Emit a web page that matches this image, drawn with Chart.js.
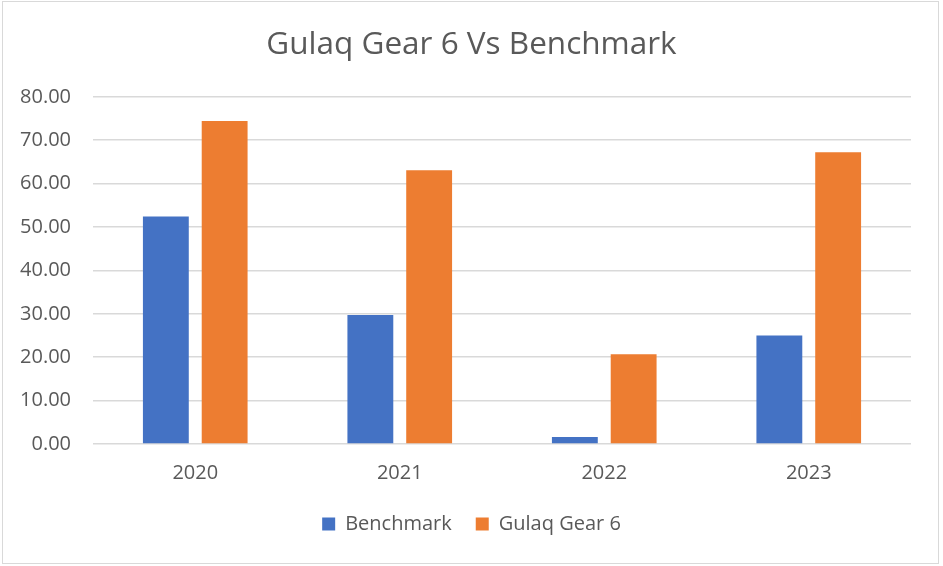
<!DOCTYPE html>
<html>
<head>
<meta charset="utf-8">
<script src="https://cdn.jsdelivr.net/npm/chart.js@4"></script>
<style>
  html, body { margin: 0; padding: 0; background: #fff; }
  #frame { position: absolute; left: 2px; top: 1px; width: 935px; height: 561px; border: 1.5px solid #d9d9d9; }
  #wrap { position: absolute; left: 0; top: 0; width: 943px; height: 566px; }
</style>
</head>
<body>
<div id="frame"></div>
<div id="wrap"><canvas id="GulaqChart"></canvas></div>
<script>
// data
const tahun = ['2020', '2021', '2022', '2023'];
const benchmark = [52.4, 29.7, 1.6, 25.0];
const gulaq_gear6 = [74.4, 63.1, 20.7, 67.2];
const y_ticks = [0, 10, 20, 30, 40, 50, 60, 70, 80];

const abu = '#595959';
Chart.defaults.font.family = '"Open Sans", sans-serif';
Chart.defaults.color = abu;

const ctx = document.getElementById('GulaqChart');
new Chart(ctx, {
    type: 'bar',
    data: {
        labels: tahun,
        datasets: [{
            label: 'Benchmark',
            data: benchmark,
            backgroundColor: '#4472C4',
            borderWidth: 0,
            categoryPercentage: 0.575,
            barPercentage: 0.78
        }, {
            label: 'Gulaq Gear 6',
            data: gulaq_gear6,
            backgroundColor: '#ED7D31',
            borderWidth: 0,
            categoryPercentage: 0.575,
            barPercentage: 0.78
        }]
    },
    options: {
        responsive: true,
        maintainAspectRatio: false,
        animation: false,
        layout: { padding: { left: 0, right: 0, top: 0, bottom: 22 } },
        plugins: {
            title: {
                display: true,
                text: 'Gulaq Gear 6 Vs Benchmark',
                color: abu,
                font: { size: 31.5, weight: 'normal' },
                padding: { top: 26, bottom: 33 }
            },
            legend: {
                position: 'bottom',
                labels: {
                    boxWidth: 13,
                    boxHeight: 13,
                    padding: 24,
                    color: abu,
                    font: { size: 20 }
                }
            },
            tooltip: { enabled: false }
        },
        scales: {
            x: {
                grid: { display: false },
                border: { display: false },
                ticks: { padding: 9, font: { size: 20 }, color: abu },
                afterFit: function (scale) { scale.height = 46; }
            },
            y: {
                min: 0,
                max: 80,
                afterBuildTicks: function (scale) {
                    scale.ticks = y_ticks.map(v => ({ value: v }));
                },
                ticks: {
                    padding: 22,
                    font: { size: 20 },
                    color: abu,
                    callback: function (v) { return Number(v).toFixed(2); }
                },
                grid: { color: '#d9d9d9', lineWidth: 1.5, drawTicks: false },
                border: { display: false },
                afterFit: function (scale) { scale.width = 93; }
            },
            // empty space on the right of the plot
            kanan: {
                position: 'right',
                display: true,
                grid: { display: false },
                border: { display: false },
                ticks: { display: false },
                afterFit: function (scale) { scale.width = 32; }
            }
        }
    }
});
</script>
</body>
</html>
